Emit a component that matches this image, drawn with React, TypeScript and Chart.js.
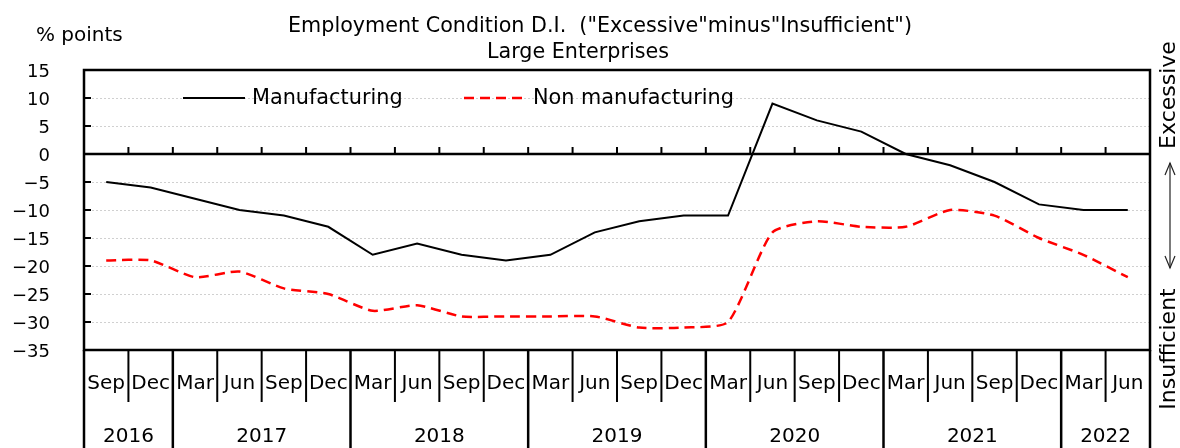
import React, { useEffect, useRef } from 'react';
import { Chart, registerables } from 'chart.js';

Chart.register(...registerables);

const monthLabels = ['Sep', 'Dec', 'Mar', 'Jun', 'Sep', 'Dec', 'Mar', 'Jun', 'Sep', 'Dec', 'Mar', 'Jun', 'Sep', 'Dec', 'Mar', 'Jun', 'Sep', 'Dec', 'Mar', 'Jun', 'Sep', 'Dec', 'Mar', 'Jun'];
const yearLabels = ['2016', '2017', '2018', '2019', '2020', '2021', '2022'];
const yearSpans = [2, 4, 4, 4, 4, 4, 2];
const manufacturing = [-5, -6, -8, -10, -11, -13, -18, -16, -18, -19, -18, -14, -12, -11, -11, 9, 6, 4, 0, -2, -5, -9, -10, -10];
const nonManufacturing = [-19, -19, -22, -21, -24, -25, -28, -27, -29, -29, -29, -29, -31, -31, -30, -14, -12, -13, -13, -10, -11, -15, -18, -22];
const yTickValues = [15, 10, 5, 0, -5, -10, -15, -20, -25, -30, -35];

const titleLine1 = 'Employment Condition D.I.  ("Excessive"minus"Insufficient")';
const titleLine2 = 'Large Enterprises';
const yUnit = '% points';
const seriesNames = ['Manufacturing', 'Non manufacturing'];
const sideTop = 'Excessive';
const sideBottom = 'Insufficient';

const categories: string[] = [];
{
  let k = 0;
  yearLabels.forEach((yr, yi) => {
    for (let j = 0; j < yearSpans[yi]; j++) {
      categories.push(monthLabels[k] + ' ' + yr);
      k++;
    }
  });
}

const FONT = "'DejaVu Sans', sans-serif";

const decor = {
  id: 'decor',
  beforeDatasetsDraw(chart: any) {
    const { ctx, chartArea, scales } = chart;
    const { left, right } = chartArea;
    const y = scales.y;
    ctx.save();
    ctx.strokeStyle = '#d0d0d0';
    ctx.lineWidth = 1;
    ctx.setLineDash([2, 2]);
    for (const v of yTickValues) {
      if (v === 0 || v === 15 || v === -35) continue;
      const py = Math.round(y.getPixelForValue(v)) + 0.5;
      ctx.beginPath();
      ctx.moveTo(left, py);
      ctx.lineTo(right, py);
      ctx.stroke();
    }
    ctx.restore();
  },
  afterDatasetsDraw(chart: any) {
    const { ctx, chartArea, scales } = chart;
    const { left, right, top, bottom } = chartArea;
    const x = scales.x;
    const y = scales.y;
    const n = categories.length;
    const step = x.getPixelForValue(1) - x.getPixelForValue(0);
    const boundary = (i: number) => x.getPixelForValue(0) - step / 2 + i * step;
    const H = chart.height;
    const y0 = y.getPixelForValue(0);

    ctx.save();
    ctx.strokeStyle = '#000';
    ctx.fillStyle = '#000';
    ctx.setLineDash([]);

    const seg = (x1: number, y1: number, x2: number, y2: number) => {
      ctx.beginPath();
      ctx.moveTo(x1, y1);
      ctx.lineTo(x2, y2);
      ctx.stroke();
    };

    // frame
    ctx.lineWidth = 2.5;
    ctx.strokeRect(left, top, right - left, bottom - top);
    // zero line
    seg(left, y0, right, y0);

    ctx.lineWidth = 2;
    // y ticks (inside)
    for (const v of yTickValues) {
      const py = y.getPixelForValue(v);
      seg(left, py, left + 7, py);
    }
    // category ticks on zero line
    for (let i = 1; i < n; i++) {
      const bx = boundary(i);
      seg(bx, y0 - 7, bx, y0);
    }

    // bottom month separators and year separators
    const yearBoundaries = new Set<number>();
    let acc = 0;
    yearSpans.forEach((s) => {
      yearBoundaries.add(acc);
      acc += s;
    });
    yearBoundaries.add(acc);
    for (let i = 0; i <= n; i++) {
      const bx = boundary(i);
      if (yearBoundaries.has(i)) {
        ctx.lineWidth = 2.5;
        seg(bx, bottom, bx, H);
      } else {
        ctx.lineWidth = 2;
        seg(bx, bottom, bx, bottom + 52);
      }
    }

    // month labels
    ctx.font = `20px ${FONT}`;
    ctx.textAlign = 'center';
    ctx.textBaseline = 'alphabetic';
    for (let i = 0; i < n; i++) {
      ctx.fillText(monthLabels[i], x.getPixelForValue(i), bottom + 39);
    }
    // year labels
    acc = 0;
    yearSpans.forEach((s, yi) => {
      const cx = (boundary(acc) + boundary(acc + s)) / 2;
      ctx.fillText(yearLabels[yi], cx, bottom + 92);
      acc += s;
    });

    // y tick labels
    ctx.font = `18px ${FONT}`;
    ctx.textAlign = 'right';
    for (const v of yTickValues) {
      const py = y.getPixelForValue(v);
      ctx.fillText(String(v).replace('-', '\u2212'), 50, py + 6.5);
    }

    // unit
    ctx.font = `20px ${FONT}`;
    ctx.textAlign = 'left';
    ctx.fillText(yUnit, 36, 41);

    // titles
    ctx.font = `20.7px ${FONT}`;
    ctx.textAlign = 'center';
    ctx.fillText(titleLine1, 600, 32);
    ctx.fillText(titleLine2, 578, 58);

    // legend
    ctx.font = `20.8px ${FONT}`;
    ctx.lineWidth = 2;
    seg(183, 98, 245, 98);
    ctx.textAlign = 'left';
    ctx.fillText(seriesNames[0], 252, 104);
    ctx.strokeStyle = '#ff0000';
    ctx.lineWidth = 2.5;
    ctx.setLineDash([10, 6]);
    seg(464, 98, 526, 98);
    ctx.setLineDash([]);
    ctx.fillText(seriesNames[1], 533, 104);

    // side labels
    ctx.strokeStyle = '#000';
    ctx.font = `22px ${FONT}`;
    ctx.textAlign = 'center';
    ctx.save();
    ctx.translate(1175, 95);
    ctx.rotate(-Math.PI / 2);
    ctx.fillText(sideTop, 0, 0);
    ctx.restore();
    ctx.save();
    ctx.translate(1175, 349);
    ctx.rotate(-Math.PI / 2);
    ctx.fillText(sideBottom, 0, 0);
    ctx.restore();

    // double arrow
    ctx.strokeStyle = '#222';
    ctx.lineWidth = 1.2;
    const ax = 1170;
    seg(ax, 163, ax, 268);
    ctx.beginPath();
    ctx.moveTo(ax - 5, 175);
    ctx.lineTo(ax, 163);
    ctx.lineTo(ax + 5, 175);
    ctx.stroke();
    ctx.beginPath();
    ctx.moveTo(ax - 5, 256);
    ctx.lineTo(ax, 268);
    ctx.lineTo(ax + 5, 256);
    ctx.stroke();

    ctx.restore();
  },
};

export default function App() {
  const canvasRef = useRef<HTMLCanvasElement | null>(null);

  useEffect(() => {
    document.body.style.margin = '0';
    const canvas = canvasRef.current;
    if (!canvas) return;
    const chart = new Chart(canvas, {
      type: 'line',
      data: {
        labels: categories,
        datasets: [
          {
            label: seriesNames[0],
            data: manufacturing,
            borderColor: '#000000',
            borderWidth: 2,
            pointRadius: 0,
            tension: 0,
            fill: false,
          },
          {
            label: seriesNames[1],
            data: nonManufacturing,
            borderColor: '#ff0000',
            borderWidth: 2.5,
            borderDash: [10, 6],
            pointRadius: 0,
            tension: 0.2,
            fill: false,
          },
        ],
      },
      options: {
        animation: false,
        responsive: false,
        devicePixelRatio: 1,
        layout: { padding: { left: 84, right: 30, top: 70, bottom: 98 } },
        plugins: {
          legend: { display: false },
          title: { display: false },
          tooltip: { enabled: false },
        },
        scales: {
          x: { type: 'category', offset: true, display: false },
          y: { type: 'linear', min: -35, max: 15, display: false },
        },
      },
      plugins: [decor],
    });
    return () => chart.destroy();
  }, []);

  return (
    <div style={{ position: 'absolute', left: 0, top: 0, width: 1180, height: 448, background: '#fff' }}>
      <canvas ref={canvasRef} width={1180} height={448} style={{ display: 'block', width: 1180, height: 448 }} />
    </div>
  );
}
